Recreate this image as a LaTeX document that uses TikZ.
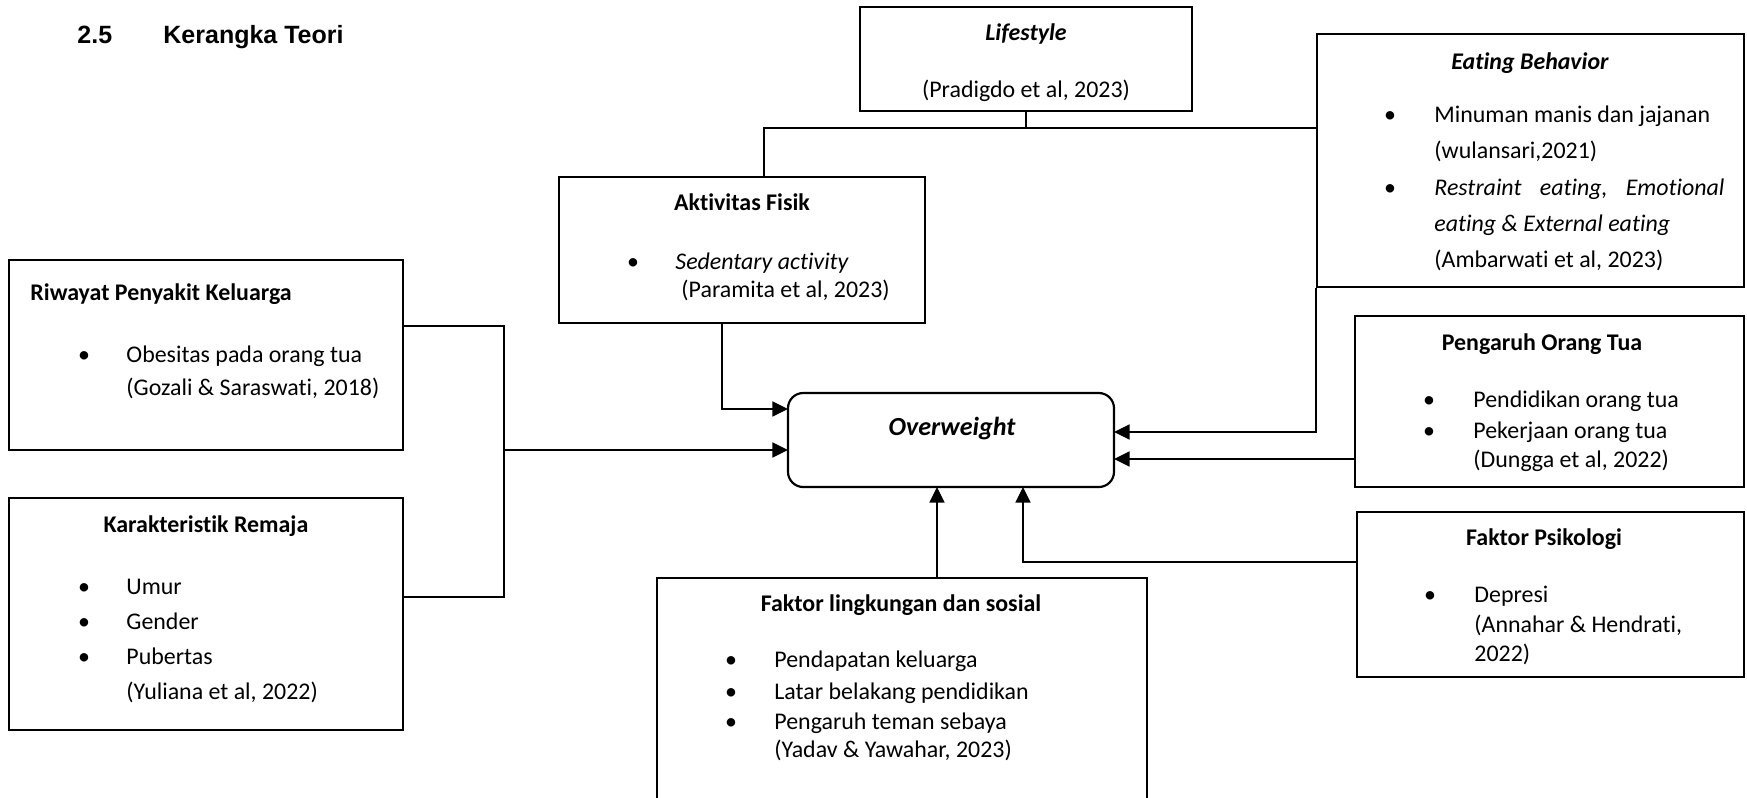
\documentclass[tikz,border=0pt]{standalone}
\usepackage{fontspec}
\setmainfont{Carlito}[Ligatures={CommonOff,ContextualOff}]
\newfontfamily\headfont{Liberation Sans}
\usetikzlibrary{arrows.meta,positioning}
\newcommand{\pxu}{0.46pt}
\newcommand{\bodysize}{\fontsize{11}{13}\selectfont}
\tikzset{
  >={Triangle[length=7.2pt,width=6.8pt]},
  every picture/.style={line join=miter},
  box/.style 2 args={draw=black, line width=0.9pt, inner sep=0pt,
    minimum width=#1*\pxu, minimum height=#2*\pxu},
  goal/.style 2 args={draw=black, line width=1pt, rounded corners=7pt, inner sep=0pt,
    minimum width=#1*\pxu, minimum height=#2*\pxu},
  head/.style={font=\headfont\fontsize{11.5}{13}\selectfont\bfseries, inner sep=0pt, anchor=base west},
  ttl/.style={font=\bodysize\bfseries, inner sep=0pt, anchor=base},
  ttlit/.style={ttl, font=\bodysize\bfseries\itshape},
  mid/.style={font=\bodysize, inner sep=0pt, anchor=base},
  txt/.style={font=\bodysize, inner sep=0pt, anchor=base west},
  txtit/.style={txt, font=\bodysize\itshape},
  dot/.style={font=\bodysize, inner sep=0pt, anchor=base},
  link/.style={black, line width=0.7pt},
  feed/.style={black, line width=1.1pt, ->},
}
\begin{document}
\begin{tikzpicture}[x=\pxu, y=-\pxu]
\useasboundingbox (0,0) rectangle (1747,797);
% heading
\node[head] (secno) at (77,43) {2.5};
\node[head] (sectitle) at (163,43) {Kerangka Teori};
% lifestyle
\node[box={332}{104}] (life) at (1026,59) {};
\node[ttlit] (life-t) at (1026,40) {Lifestyle};
\node[mid] (life-r) at (1026,97) {(Pradigdo et al, 2023)};
% aktivitas fisik
\node[box={366}{146}] (akt) at (742,250) {};
\node[ttl] (akt-t) at (742,210) {Aktivitas Fisik};
\node[dot] (akt-b) at (633,269) {\textbullet};
\node[txtit] (akt-1) at (675,269) {Sedentary activity};
\node[txt] (akt-2) at (681,297) {(Paramita et al, 2023)};
% eating behavior
\node[box={427}{253}] (eat) at (1530.5,160.5) {};
\node[ttlit] (eat-t) at (1530,69) {Eating Behavior};
\foreach \y in {122,195}
  \node[dot] (eat-b\y) at (1390,\y) {\textbullet};
\node[txt] (eat-1) at (1434,122) {Minuman manis dan jajanan};
\node[txt] (eat-2) at (1434,158) {(wulansari,2021)};
\node[txtit] (eat-3) at (1434,195) {\makebox[133.4pt][l]{Restraint\hfill eating,\hfill Emotional}};
\node[txtit] (eat-4) at (1434,231) {eating \& External eating};
\node[txt] (eat-5) at (1434,267) {(Ambarwati et al, 2023)};
% riwayat penyakit keluarga
\node[box={394}{190}] (rw) at (206,355) {};
\node[ttl, anchor=base west] (rw-t) at (30,300) {Riwayat Penyakit Keluarga};
\node[dot] (rw-b) at (84,362) {\textbullet};
\node[txt] (rw-1) at (126,362) {Obesitas pada orang tua};
\node[txt] (rw-2) at (126,395) {(Gozali \& Saraswati, 2018)};
% karakteristik remaja
\node[box={394}{232}] (kr) at (206,614) {};
\node[ttl] (kr-t) at (206,532) {Karakteristik Remaja};
\foreach \y in {594,629,664}
  \node[dot] (kr-b\y) at (84,\y) {\textbullet};
\foreach \n/\y/\s in {1/594/Umur, 2/629/Gender, 3/664/Pubertas, 4/699/{(Yuliana et al, 2022)}}
  \node[txt] (kr-\n) at (126,\y) {\s};
% overweight
\node[goal={326}{94}] (ow) at (951,440) {};
\node[ttlit, font=\fontsize{12}{14}\selectfont\bfseries\itshape] (ow-t) at (952,435) {Overweight};
% pengaruh orang tua
\node[box={389}{171}] (po) at (1549.5,401.5) {};
\node[ttl] (po-t) at (1542,350) {Pengaruh Orang Tua};
\foreach \y in {407,438}
  \node[dot] (po-b\y) at (1429,\y) {\textbullet};
\foreach \n/\y/\s in {1/407/Pendidikan orang tua, 2/438/Pekerjaan orang tua, 3/467/{(Dungga et al, 2022)}}
  \node[txt] (po-\n) at (1473,\y) {\s};
% faktor psikologi
\node[box={387}{165}] (ps) at (1550.5,594.5) {};
\node[ttl] (ps-t) at (1544,545) {Faktor Psikologi};
\node[dot] (ps-b) at (1430,602) {\textbullet};
\foreach \n/\y/\s in {1/602/Depresi, 2/632/{(Annahar \& Hendrati,}, 3/661/{2022)}}
  \node[txt] (ps-\n) at (1474,\y) {\s};
% faktor lingkungan dan sosial
\node[box={490}{252}] (lk) at (902,704) {};
\node[ttl] (lk-t) at (901,611) {Faktor lingkungan dan sosial};
\foreach \y in {667,699,729}
  \node[dot] (lk-b\y) at (731,\y) {\textbullet};
\foreach \n/\y/\s in {1/667/Pendapatan keluarga, 2/699/Latar belakang pendidikan, 3/729/Pengaruh teman sebaya, 4/757/{(Yadav \& Yawahar, 2023)}}
  \node[txt] (lk-\n) at (774,\y) {\s};
% connector points
\coordinate (topbar) at (0,128);
\coordinate (akt-in) at (764,177);
\coordinate (akt-out) at (722,323);
\coordinate (rw-out) at (403,326);
\coordinate (kr-out) at (403,597);
\coordinate (brk) at (504,450);
\coordinate (ps-out) at (1357,562);
\coordinate (ow-l1) at (788,409);
\coordinate (ow-l2) at (788,450);
\coordinate (ow-r1) at (1114,432);
\coordinate (ow-r2) at (1114,459);
\coordinate (ow-b1) at (937,487);
\coordinate (ow-b2) at (1023,487);
% lifestyle branch
\draw[link] (life.south) -- (life.south |- topbar);
\draw[link] (akt-in) |- (eat.west |- topbar);
% arrows into overweight
\draw[feed] (akt-out) |- (ow-l1);
\draw[link] (rw-out) -| (brk) |- (kr-out);
\draw[feed] (brk) -- (ow-l2);
\draw[feed] (eat.south west) |- (ow-r1);
\draw[feed] (po.west |- ow-r2) -- (ow-r2);
\draw[feed] (ps-out) -| (ow-b2);
\draw[feed] (lk.north -| ow-b1) -- (ow-b1);
\end{tikzpicture}
\end{document}
